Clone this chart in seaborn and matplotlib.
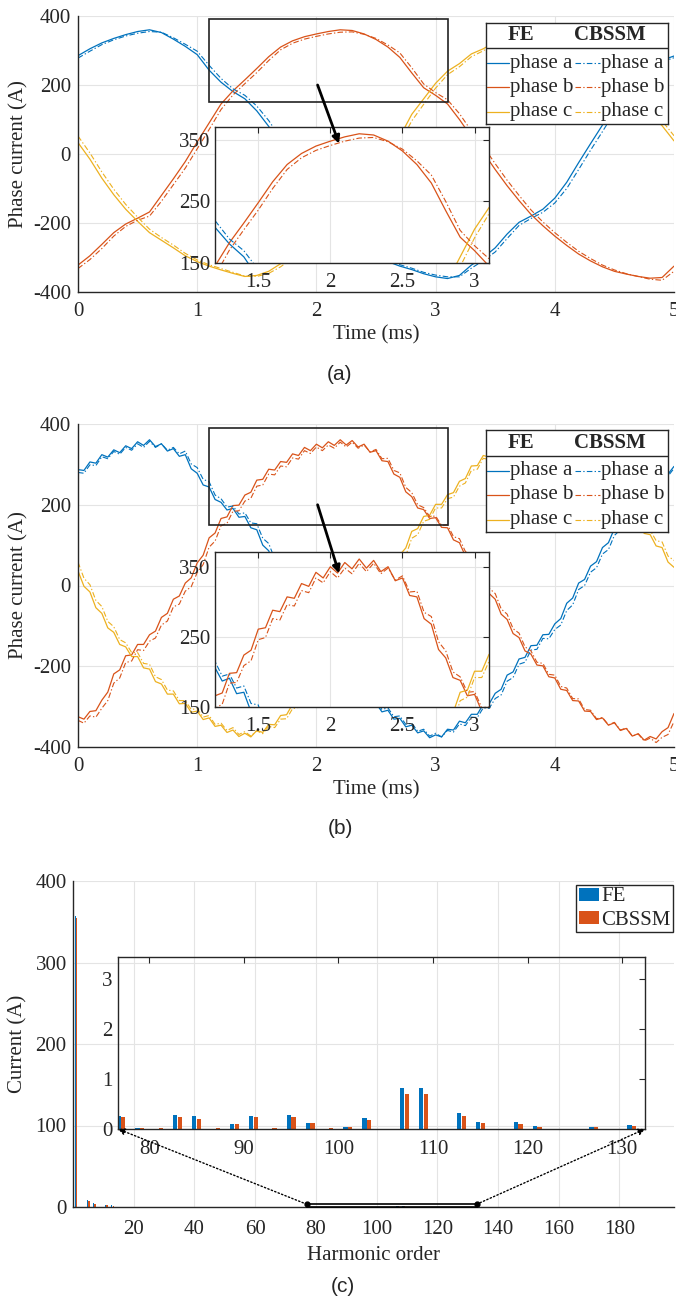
import numpy as np
import pandas as pd
import matplotlib
matplotlib.use("Agg")
import matplotlib.pyplot as plt
import seaborn as sns
from matplotlib.patches import Rectangle, Patch, ConnectionPatch

# ---------------- data ----------------
# (a) sinusoidal supply, one value every 0.1 ms from 0 to 5 ms
a_fe_phase_a = [285, 305, 322, 335, 346, 355, 360, 352, 333, 312, 288, 243, 208, 181, 160, 125, 80, 25,
                -35, -95, -150, -200, -240, -268, -287, -300, -312, -325, -335, -347, -356, -361, -352,
                -322, -300, -272, -232, -198, -180, -160, -128, -82, -25, 30, 84, 140, 190, 228, 255, 272, 284]
a_fe_phase_b = [-322, -295, -262, -228, -203, -186, -168, -120, -72, -22, 35, 90, 145, 183, 215, 248, 282,
                310, 328, 340, 348, 355, 360, 358, 348, 332, 310, 280, 235, 192, 170, 145, 100, 50, 5, -45,
                -92, -135, -175, -208, -238, -265, -290, -310, -327, -340, -348, -355, -360, -358, -325]
a_fe_phase_c = [33, -15, -70, -118, -160, -195, -228, -250, -272, -295, -312, -325, -336, -346, -355, -352,
                -340, -318, -290, -255, -210, -165, -120, -90, -60, -30, 5, 50, 115, 160, 205, 240, 262, 290,
                305, 325, 340, 350, 357, 360, 355, 342, 322, 295, 260, 222, 185, 150, 115, 82, 38]
a_cb_phase_a = [278, 298, 317, 331, 342, 350, 355, 353, 337, 318, 298, 257, 219, 189, 170, 139, 97, 45, -14,
                -75, -132, -184, -228, -260, -281, -296, -308, -321, -331, -343, -351, -356, -356, -331,
                -309, -284, -245, -207, -187, -169, -142, -100, -45, 11, 65, 121, 175, 217, 247, 267, 279]
a_cb_phase_b = [-332, -306, -274, -238, -210, -192, -180, -137, -89, -41, 15, 71, 129, 171, 204, 236, 271,
                302, 321, 333, 341, 348, 353, 354, 347, 335, 316, 293, 250, 203, 178, 157, 117, 67, 22, -28,
                -76, -120, -162, -197, -228, -256, -282, -303, -322, -336, -347, -355, -363, -366, -340]
a_cb_phase_c = [52, 3, -52, -102, -146, -183, -218, -242, -264, -288, -307, -321, -332, -343, -354, -355,
                -346, -327, -301, -269, -226, -181, -133, -100, -70, -41, -9, 31, 96, 144, 191, 230, 253,
                282, 299, 319, 336, 345, 351, 355, 353, 345, 330, 306, 273, 235, 198, 162, 127, 96, 53]

# (b) PWM supply, one value every 0.05 ms from 0 to 5 ms
b_fe_phase_a = [287, 285, 306, 303, 324, 318, 336, 329, 346, 339, 356, 347, 361, 344, 351, 333, 339, 320,
                324, 289, 278, 249, 244, 213, 206, 187, 191, 169, 171, 143, 138, 100, 86, 47, 31, -11, -29,
                -71, -89, -129, -144, -181, -194, -226, -234, -260, -262, -284, -281, -299, -292, -313,
                -309, -331, -329, -350, -346, -365, -360, -377, -370, -375, -356, -358, -336, -340, -319,
                -319, -294, -293, -267, -257, -222, -214, -182, -178, -149, -148, -122, -121, -95, -82,
                -44, -31, 6, 15, 48, 59, 94, 106, 141, 154, 191, 199, 231, 234, 261, 259, 281, 276, 295]
b_fe_phase_b = [-325, -331, -312, -310, -284, -264, -219, -209, -174, -172, -146, -146, -122, -113, -79,
                -69, -34, -26, 6, 19, 56, 75, 118, 130, 166, 170, 198, 199, 224, 231, 261, 263, 288, 286,
                307, 305, 326, 322, 342, 334, 350, 341, 356, 347, 361, 348, 359, 343, 350, 330, 334, 309,
                307, 276, 268, 232, 220, 192, 188, 166, 168, 144, 143, 113, 106, 73, 64, 29, 18, -20, -34,
                -71, -84, -119, -129, -162, -170, -197, -199, -226, -229, -257, -260, -285, -286, -311,
                -312, -332, -328, -346, -340, -359, -354, -373, -367, -383, -374, -380, -362, -352, -317]
b_fe_phase_c = [36, -2, -16, -55, -69, -105, -116, -146, -152, -176, -176, -204, -207, -238, -244, -269,
                -269, -293, -292, -314, -311, -332, -328, -349, -346, -364, -358, -374, -366, -375, -359,
                -364, -344, -345, -322, -320, -294, -289, -259, -246, -209, -199, -164, -154, -119, -114,
                -84, -81, -54, -51, -24, -19, 11, 32, 76, 93, 134, 141, 171, 174, 201, 201, 225, 230, 258,
                265, 296, 297, 322, 318, 338, 333, 351, 343, 358, 349, 364, 353, 366, 352, 361, 343, 348,
                326, 328, 301, 298, 268, 261, 229, 221, 192, 186, 159, 156, 129, 126, 98, 94, 58, 45]
b_cb_phase_a = [280, 278, 299, 297, 319, 314, 332, 325, 342, 335, 351, 342, 357, 342, 351, 335, 342, 326,
                333, 301, 292, 263, 257, 224, 215, 194, 197, 177, 180, 155, 153, 117, 104, 66, 51, 10, -8,
                -51, -69, -110, -126, -164, -178, -212, -222, -250, -254, -277, -276, -294, -287, -307,
                -303, -325, -323, -344, -341, -361, -356, -373, -366, -375, -359, -363, -343, -347, -326,
                -327, -303, -304, -280, -271, -237, -228, -195, -190, -160, -158, -131, -132, -109, -98,
                -62, -48, -10, 0, 33, 44, 78, 89, 124, 138, 175, 185, 219, 224, 252, 252, 275, 271, 290]
b_cb_phase_b = [-334, -341, -323, -326, -304, -285, -242, -229, -191, -187, -159, -161, -138, -130, -98,
                -88, -53, -46, -14, -3, 32, 52, 95, 110, 148, 154, 184, 185, 209, 216, 246, 249, 276, 274,
                296, 294, 316, 313, 334, 327, 343, 334, 348, 340, 355, 343, 355, 340, 348, 331, 337, 314,
                315, 285, 279, 243, 230, 200, 193, 171, 172, 149, 150, 121, 116, 84, 75, 41, 31, -7, -20,
                -58, -71, -107, -118, -152, -162, -190, -193, -220, -222, -250, -254, -280, -281, -307,
                -309, -330, -327, -345, -339, -358, -353, -373, -368, -385, -378, -389, -376, -369, -337]
b_cb_phase_c = [58, 18, 2, -37, -52, -89, -102, -134, -142, -166, -166, -193, -195, -226, -233, -259,
                -261, -285, -285, -307, -305, -326, -322, -344, -341, -359, -352, -369, -362, -373, -360,
                -367, -349, -352, -331, -330, -305, -302, -274, -262, -226, -215, -180, -169, -133, -126,
                -95, -92, -65, -62, -35, -33, -7, 12, 55, 74, 117, 126, 159, 164, 192, 192, 215, 219, 246,
                254, 285, 288, 315, 312, 333, 327, 345, 337, 353, 344, 359, 348, 361, 348, 359, 343, 351,
                332, 337, 312, 310, 280, 274, 242, 234, 204, 197, 170, 166, 140, 137, 111, 108, 73, 62]

# (c) harmonic spectrum of the phase current
harmonic_order = [1, 5, 7, 11, 13, 77, 79, 81, 83, 85, 87, 89, 91, 93, 95, 97, 99, 101, 103, 105, 107,
                  109, 111, 113, 115, 117, 119, 121, 123, 125, 127, 129, 131]
fe_current = [357, 8, 4.5, 2.5, 2.0, 0.25, 0.01, 0.0, 0.27, 0.26, 0.0, 0.10, 0.26, 0.0, 0.27, 0.11, 0.0,
              0.04, 0.22, 0.0, 0.81, 0.82, 0.0, 0.31, 0.13, 0.0, 0.13, 0.05, 0.0, 0.0, 0.03, 0.0, 0.08]
cbssm_current = [355, 7, 4.0, 2.2, 1.8, 0.23, 0.02, 0.01, 0.23, 0.20, 0.01, 0.09, 0.23, 0.01, 0.23, 0.11,
                 0.01, 0.03, 0.18, 0.0, 0.69, 0.69, 0.0, 0.25, 0.11, 0.0, 0.10, 0.04, 0.0, 0.0, 0.03, 0.0,
                 0.05]

phase_names = ["phase a", "phase b", "phase c"]
model_names = ["FE", "CBSSM"]

# ---------------- style ----------------
sns.set_style("white")
plt.rcParams["font.family"] = ["Liberation Serif", "DejaVu Serif"]
plt.rcParams["axes.unicode_minus"] = False

PHASE_COLORS = ["#0072BD", "#D95319", "#EDB120"]
SPINE = "#262626"
GRID = "#e4e4e4"
FS = 15
LW = 0.9
LW_CB = 0.8
DASHDOT = (0, (5, 2, 1.2, 2))

W, H = 676, 1305
fig = plt.figure(figsize=(W / 100, H / 100), dpi=100)


def px_box(left, top, right, bottom):
    return [left / W, 1 - bottom / H, (right - left) / W, (bottom - top) / H]


def style_axes(ax, box, xpad, ypad):
    for side, sp in ax.spines.items():
        sp.set_color(SPINE)
        sp.set_linewidth(1.0)
        if not box and side in ("top", "right"):
            sp.set_visible(False)
    ax.tick_params(direction="in", length=4, width=0.8, color=SPINE, labelsize=FS,
                   labelcolor="#262626", top=box, right=box)
    ax.tick_params(axis="x", pad=xpad)
    ax.tick_params(axis="y", pad=ypad)


def draw_curves(ax, time, fe, cb):
    for vals, col in zip(fe, PHASE_COLORS):
        sns.lineplot(x=time, y=vals, ax=ax, color=col, linewidth=LW, estimator=None,
                     sort=False, legend=False)
    for vals, col in zip(cb, PHASE_COLORS):
        sns.lineplot(x=time, y=vals, ax=ax, color=col, linewidth=LW_CB, linestyle=DASHDOT,
                     estimator=None, sort=False, legend=False)


def phase_legend(box):
    lg = fig.add_axes(px_box(*box))
    lg.set_xlim(0, 1)
    lg.set_ylim(0, 1)
    lg.set_xticks([])
    lg.set_yticks([])
    for sp in lg.spines.values():
        sp.set_color(SPINE)
        sp.set_linewidth(1.0)
    lg.axhline(0.75, color=SPINE, lw=1.0)
    lg.text(0.19, 0.875, model_names[0], weight="bold", ha="center", va="center", fontsize=FS)
    lg.text(0.68, 0.875, model_names[1], weight="bold", ha="center", va="center", fontsize=FS)
    for row_y, col, name in zip([0.60, 0.365, 0.12], PHASE_COLORS, phase_names):
        lg.plot([0.008, 0.125], [row_y, row_y], color=col, lw=LW)
        lg.text(0.13, row_y, name, ha="left", va="center", fontsize=FS)
        lg.plot([0.49, 0.625], [row_y, row_y], color=col, lw=LW_CB, linestyle=DASHDOT)
        lg.text(0.63, row_y, name, ha="left", va="center", fontsize=FS)


def phase_panel(main_px, inset_px, legend_px, fe, cb, caption, xlabel_y, caption_y):
    time = np.linspace(0, 5, len(fe[0]))
    left, top, right, bottom = main_px
    ax = fig.add_axes(px_box(*main_px))
    draw_curves(ax, time, fe, cb)
    ax.set_xlim(0, 5)
    ax.set_ylim(-400, 400)
    ax.set_xticks(range(6))
    ax.set_yticks(range(-400, 401, 200))
    ax.grid(True, color=GRID, lw=0.8)
    ax.set_axisbelow(True)
    style_axes(ax, box=False, xpad=7, ypad=5)
    ax.set_xlabel("Time (ms)", fontsize=FS)
    ax.set_ylabel("Phase current (A)", fontsize=FS)
    ax.xaxis.set_label_coords(0.5, (bottom - xlabel_y) / (bottom - top))
    ax.xaxis.label.set_va("center")
    ax.yaxis.set_label_coords((19 - left) / (right - left), 0.5)
    ax.yaxis.label.set_va("center")
    ax.add_patch(Rectangle((1.1, 150), 2.0, 240, fill=False, edgecolor="#222222", lw=1.2, zorder=6))

    axin = fig.add_axes(px_box(*inset_px))
    draw_curves(axin, time, fe, cb)
    axin.set_xlim(1.2, 3.1)
    axin.set_ylim(150, 371)
    axin.set_xticks([1.5, 2, 2.5, 3])
    axin.set_xticklabels(["1.5", "2", "2.5", "3"])
    axin.set_yticks([150, 250, 350])
    axin.grid(True, color=GRID, lw=0.8)
    axin.set_axisbelow(True)
    style_axes(axin, box=True, xpad=7, ypad=3.5)

    arrow = ConnectionPatch(xyA=(2.01, 200), xyB=(2.19, 30), coordsA=ax.transData,
                            coordsB=ax.transData, arrowstyle="-|>", lw=2.0, color="black",
                            mutation_scale=11, zorder=10)
    fig.add_artist(arrow)
    phase_legend(legend_px)
    fig.text(340 / W, 1 - caption_y / H, caption, family="Liberation Sans", fontsize=FS,
             ha="center", va="center")


phase_panel((78, 16, 674, 292), (215, 127, 489, 263), (486, 22.7, 668, 124),
            [a_fe_phase_a, a_fe_phase_b, a_fe_phase_c], [a_cb_phase_a, a_cb_phase_b, a_cb_phase_c],
            "(a)", 335, 375)
phase_panel((78, 424, 674, 747), (215, 552, 489, 707), (486, 430, 668, 532),
            [b_fe_phase_a, b_fe_phase_b, b_fe_phase_c], [b_cb_phase_a, b_cb_phase_b, b_cb_phase_c],
            "(b)", 790, 829)

# ---------------- (c) spectrum ----------------
spectrum = pd.DataFrame({
    "harmonic": harmonic_order * 2,
    "current": fe_current + cbssm_current,
    "model": [model_names[0]] * len(harmonic_order) + [model_names[1]] * len(harmonic_order),
})
bar_palette = {"FE": PHASE_COLORS[0], "CBSSM": PHASE_COLORS[1]}

c_left, c_top, c_right, c_bottom = 73, 881, 674, 1207
axc = fig.add_axes(px_box(c_left, c_top, c_right, c_bottom))
sns.barplot(data=spectrum, x="harmonic", y="current", hue="model", hue_order=model_names,
            palette=bar_palette, native_scale=True, width=0.5, gap=0.1, saturation=1,
            errorbar=None, linewidth=0, legend=False, ax=axc)
axc.set_xlim(0, 198)
axc.set_ylim(0, 400)
axc.set_xticks(range(20, 181, 20))
axc.set_yticks(range(0, 401, 100))
axc.grid(True, color=GRID, lw=0.8)
axc.set_axisbelow(True)
style_axes(axc, box=False, xpad=9, ypad=4.5)
axc.set_xlabel("Harmonic order", fontsize=FS)
axc.set_ylabel("Current (A)", fontsize=FS)
axc.xaxis.set_label_coords(0.5, (c_bottom - 1255) / (c_bottom - c_top))
axc.xaxis.label.set_va("center")
axc.yaxis.set_label_coords((18 - c_left) / (c_right - c_left), 0.5)
axc.yaxis.label.set_va("center")
axc.legend(handles=[Patch(facecolor=bar_palette[m], edgecolor="none", label=m) for m in model_names],
           loc="upper right", bbox_to_anchor=(0.998, 0.988), fontsize=FS, frameon=True, fancybox=False,
           edgecolor=SPINE, framealpha=1, borderpad=0.12, handlelength=0.96, handleheight=0.58,
           handletextpad=0.1, labelspacing=0.2, borderaxespad=0)

zoom_x0, zoom_x1, zoom_h = 77, 133, 3.4
axc.add_patch(Rectangle((zoom_x0, 0), zoom_x1 - zoom_x0, zoom_h, fill=False, edgecolor="black",
                        lw=1.2, zorder=6, clip_on=False))
axc.plot([zoom_x0, zoom_x1], [zoom_h, zoom_h], "o", color="black", ms=3.5, clip_on=False, zorder=7)

axcin = fig.add_axes(px_box(118, 957, 645, 1129))
sns.barplot(data=spectrum, x="harmonic", y="current", hue="model", hue_order=model_names,
            palette=bar_palette, native_scale=True, width=0.5, gap=0.1, saturation=1,
            errorbar=None, linewidth=0, legend=False, ax=axcin)
axcin.set_xlim(76.7, 132.4)
axcin.set_ylim(0, 3.43)
axcin.set_xticks(range(80, 131, 10))
axcin.set_yticks([0, 1, 2, 3])
axcin.patch.set_alpha(0)
axcin.set_xlabel("")
axcin.set_ylabel("")
style_axes(axcin, box=True, xpad=8, ypad=4)

for main_x, inset_x in [(zoom_x0, 76.7), (zoom_x1, 132.4)]:
    link = ConnectionPatch(xyA=(main_x, zoom_h), xyB=(inset_x, 0), coordsA=axc.transData,
                           coordsB=axcin.transData, arrowstyle="-|>", linestyle=":", lw=1.0,
                           color="black", mutation_scale=10, zorder=10)
    fig.add_artist(link)

fig.text(343 / W, 1 - 1287 / H, "(c)", family="Liberation Sans", fontsize=FS, ha="center", va="center")

fig.savefig("out.png", dpi=100)
